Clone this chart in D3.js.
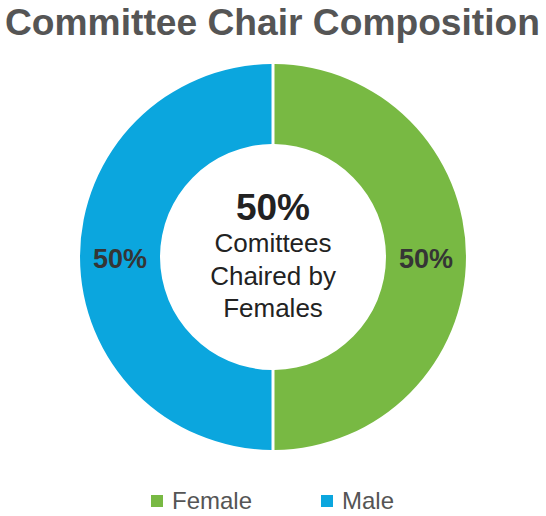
<!DOCTYPE html>
<html>
<head>
<meta charset="utf-8">
<script src="https://cdn.jsdelivr.net/npm/d3@7"></script>
<style>
  html, body { margin: 0; padding: 0; background: #fff; }
  svg { display: block; font-family: "Liberation Sans", Arial, Helvetica, sans-serif; }
</style>
</head>
<body>
<svg id="chart" width="546" height="516"></svg>
<script>
const title = "Committee Chair Composition";
const categories = ["Female", "Male"];
const values = [50, 50];
const colors = ["#78b943", "#0ba6de"];
const centerValue = "50%";
const centerLines = ["Comittees", "Chaired by", "Females"];

const svg = d3.select("#chart");
const cx = 273, cy = 257, rOuter = 193, rInner = 113;

svg.append("text")
  .attr("x", 5).attr("y", 35)
  .attr("textLength", 535).attr("lengthAdjust", "spacingAndGlyphs")
  .attr("font-size", 37).attr("font-weight", "bold")
  .attr("fill", "#555555")
  .text(title);

const color = d3.scaleOrdinal().domain(categories).range(colors);
const data = categories.map((c, i) => ({ cat: c, value: values[i] }));
const pie = d3.pie().value(d => d.value).sort(null);
const arcs = pie(data);
const padR = Math.sqrt(rInner * rInner + rOuter * rOuter);
const arc = d3.arc().innerRadius(rInner).outerRadius(rOuter)
  .padAngle(3 / padR).padRadius(padR);
const labelArc = d3.arc().innerRadius((rInner + rOuter) / 2).outerRadius((rInner + rOuter) / 2);

const g = svg.append("g").attr("transform", `translate(${cx},${cy})`);
g.selectAll("path.slice").data(arcs).join("path")
  .attr("class", "slice")
  .attr("d", arc)
  .attr("fill", d => color(d.data.cat));

const total = d3.sum(values);
g.selectAll("text.pct").data(arcs).join("text")
  .attr("class", "pct")
  .attr("transform", d => { const [x, y] = labelArc.centroid(d); return `translate(${x},${y})`; })
  .attr("text-anchor", "middle")
  .attr("dy", "0.4em")
  .attr("font-size", 27).attr("font-weight", "bold")
  .attr("fill", "#353535")
  .text(d => Math.round(d.data.value / total * 100) + "%");

g.append("text")
  .attr("x", 0).attr("y", 220 - cy)
  .attr("text-anchor", "middle")
  .attr("font-size", 37).attr("font-weight", "bold")
  .attr("fill", "#222")
  .text(centerValue);

g.selectAll("text.cl").data(centerLines).join("text")
  .attr("class", "cl")
  .attr("x", 0).attr("y", (d, i) => 252 - cy + i * 32.5)
  .attr("text-anchor", "middle")
  .attr("font-size", 26)
  .attr("fill", "#222")
  .text(d => d);

const legendX = [151, 321];
const lg = svg.selectAll("g.leg").data(categories).join("g")
  .attr("class", "leg")
  .attr("transform", (d, i) => `translate(${legendX[i]},495)`);
lg.append("rect").attr("width", 12).attr("height", 12).attr("fill", d => color(d));
lg.append("text").attr("x", 21).attr("y", 14)
  .attr("font-size", 24).attr("fill", "#555555")
  .text(d => d);
</script>
</body>
</html>
